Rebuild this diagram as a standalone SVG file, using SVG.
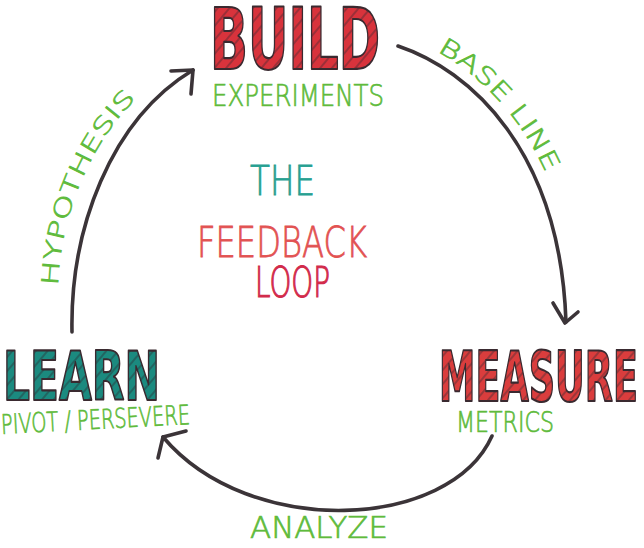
<svg xmlns="http://www.w3.org/2000/svg" width="644" height="548" viewBox="0 0 644 548">
  <defs>
    <!-- marker fills with diagonal hatching for the block letters -->
    <pattern id="hatchRed" width="9" height="9" patternUnits="userSpaceOnUse" patternTransform="rotate(40)">
      <rect width="9" height="9" fill="#d8333c"/>
      <line x1="1" y1="0" x2="1" y2="9" stroke="#3a2a30" stroke-width="1.1" stroke-opacity="0.7"/>
    </pattern>
    <pattern id="hatchRed2" width="9" height="9" patternUnits="userSpaceOnUse" patternTransform="rotate(40)">
      <rect width="9" height="9" fill="#da3d3d"/>
      <line x1="1" y1="0" x2="1" y2="9" stroke="#3a2a30" stroke-width="1.1" stroke-opacity="0.7"/>
    </pattern>
    <pattern id="hatchTeal" width="9" height="9" patternUnits="userSpaceOnUse" patternTransform="rotate(40)">
      <rect width="9" height="9" fill="#1b8a7f"/>
      <line x1="1" y1="0" x2="1" y2="9" stroke="#2a2a30" stroke-width="1.1" stroke-opacity="0.7"/>
    </pattern>
    <!-- guide paths for the curved labels -->
    <path id="baselinePath" d="M400,36 C478,60 572,145 578,322"/>
    <path id="hypothesisPath" d="M58,300 C56,220 92,124 168,72"/>
  </defs>
  <style>
    .block { font-family: "DejaVu Sans", "Liberation Sans", sans-serif; font-weight: bold; stroke: #3a2a30; stroke-width: 2.2; stroke-linejoin: round; }
    .hand { font-family: "DejaVu Sans", "Liberation Sans", sans-serif; font-weight: 200; }
    .sub { fill: #5fbb3c; stroke: #5fbb3c; stroke-width: 0.7; }
    .arc { fill: none; stroke: #3b3438; stroke-width: 3.6; stroke-linecap: round; stroke-linejoin: round; }
  </style>
  <rect width="644" height="548" fill="#ffffff"/>

  <!-- connectors -->
  <g id="connectors">
    <path class="arc" d="M398,46 C470,70 560,150 566,322"/>
    <polyline class="arc" points="553,303 565,323 578,312"/>
    <path class="arc" d="M72,332 C70,230 110,120 193,70"/>
    <polyline class="arc" points="171,71 193,70 191,94"/>
    <path class="arc" d="M492,436 C450,530 250,540 163,437"/>
    <polyline class="arc" points="186,431 163,437 158,458"/>
  </g>

  <!-- connector labels -->
  <g id="edge-labels">
    <text class="hand sub" font-size="24"><textPath href="#baselinePath" startOffset="40" textLength="166" lengthAdjust="spacingAndGlyphs">BASE LINE</textPath></text>
    <text class="hand sub" font-size="23"><textPath href="#hypothesisPath" startOffset="14" textLength="208" lengthAdjust="spacingAndGlyphs">HYPOTHESIS</textPath></text>
    <text id="analyze" class="hand sub" x="250" y="538" font-size="30" textLength="138" lengthAdjust="spacingAndGlyphs">ANALYZE</text>
  </g>

  <!-- BUILD -->
  <g id="node-build">
    <text class="block" x="210" y="69" font-size="86" fill="url(#hatchRed)" textLength="170" lengthAdjust="spacingAndGlyphs">BUILD</text>
    <text class="hand sub" x="212" y="106" font-size="30" textLength="172" lengthAdjust="spacingAndGlyphs">EXPERIMENTS</text>
  </g>

  <!-- MEASURE -->
  <g id="node-measure">
    <text class="block" x="439" y="401" font-size="70" fill="url(#hatchRed2)" textLength="199" lengthAdjust="spacingAndGlyphs">MEASURE</text>
    <text class="hand sub" x="456" y="432" font-size="28" textLength="98" lengthAdjust="spacingAndGlyphs">METRICS</text>
  </g>

  <!-- LEARN -->
  <g id="node-learn">
    <text class="block" x="3" y="400" font-size="68" fill="url(#hatchTeal)" textLength="157" lengthAdjust="spacingAndGlyphs">LEARN</text>
    <text class="hand sub" x="1" y="429" font-size="27" textLength="189" lengthAdjust="spacingAndGlyphs" transform="rotate(-3 95 420)">PIVOT / PERSEVERE</text>
  </g>

  <!-- centre title -->
  <g id="title" class="hand">
    <text x="250" y="195" font-size="40" fill="#27a091" stroke="#27a091" stroke-width="0.8" textLength="65" lengthAdjust="spacingAndGlyphs">THE</text>
    <text x="197" y="257" font-size="42" fill="#e25252" stroke="#e25252" stroke-width="0.8" textLength="170" lengthAdjust="spacingAndGlyphs">FEEDBACK</text>
    <text x="255" y="297" font-size="42" fill="#d22b4b" stroke="#d22b4b" stroke-width="1.2" textLength="75" lengthAdjust="spacingAndGlyphs">LOOP</text>
  </g>
</svg>
